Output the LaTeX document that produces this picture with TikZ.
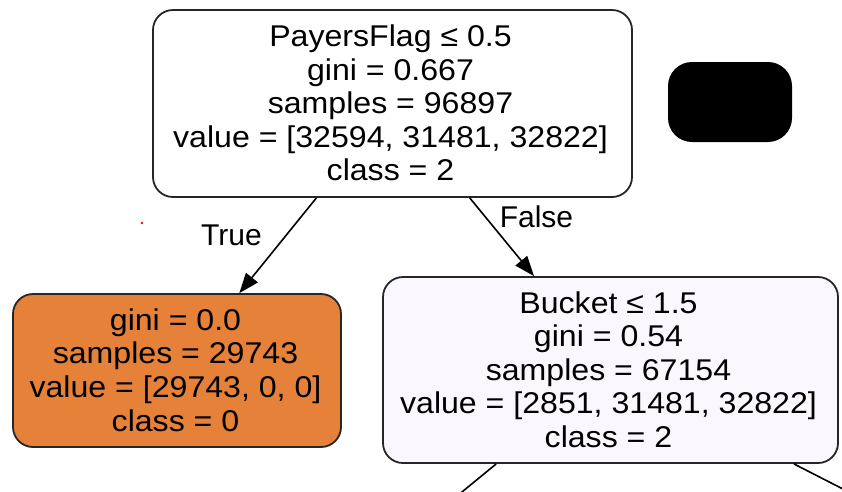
\documentclass[tikz,border=0pt]{standalone}
\usepackage{fontspec}
\setmainfont{Liberation Sans}[FakeStretch=1.07]
\newfontfamily\edgefont{Liberation Sans}
\usetikzlibrary{arrows.meta}
\definecolor{leaforange}{HTML}{E58139}
\definecolor{splitlilac}{HTML}{FAF8FE}
\begin{document}
\begin{tikzpicture}[x=1pt,y=-1pt,
  treebox/.style={draw=black!85, line width=1.8pt, rounded corners=20pt, inner sep=0pt},
  boxtext/.style={align=center, font=\fontsize{30}{33.6}\selectfont, inner sep=0pt},
  edgelabel/.style={font=\edgefont\fontsize{30}{33.6}\selectfont, inner sep=0pt, anchor=base},
  branch/.style={line width=1.6pt, -{Triangle[length=20pt,width=15pt]}},
  twig/.style={line width=1.6pt},
]
\useasboundingbox (0,0) rectangle (842,491);
\clip (0,0) rectangle (842,491);

% tree boxes
\node[treebox, fill=white, minimum width=479pt, minimum height=187pt] (root) at (392.5,103.5) {};
\node[treebox, fill=leaforange, minimum width=328pt, minimum height=153pt] (leafL) at (177,370.5) {};
\node[treebox, fill=splitlilac, minimum width=455pt, minimum height=186pt] (nodeR) at (610.5,370) {};

% box contents
\node[boxtext] (rootText) at (390.5,103) {PayersFlag ≤ 0.5\\gini = 0.667\\samples = 96897\\value = [32594, 31481, 32822]\\class = 2};
\node[boxtext] (leafText) at (175.5,370) {gini = 0.0\\samples = 29743\\value = [29743, 0, 0]\\class = 0};
\node[boxtext] (nodeRText) at (608.5,369.5) {Bucket ≤ 1.5\\gini = 0.54\\samples = 67154\\value = [2851, 31481, 32822]\\class = 2};

% solid rounded block beside the root
\node[fill=black, rounded corners=24pt, minimum width=124pt, minimum height=80pt, inner sep=0pt] (blackbox) at (730,102) {};

% branches
\draw[branch] (root) -- (leafL);
\draw[branch] (root) -- (nodeR);
\node[edgelabel] (trueLabel) at (231.5,245) {True};
\node[edgelabel] (falseLabel) at (536.5,227) {False};

% branches continuing below the frame
\coordinate (belowL) at (440,510);
\coordinate (belowR) at (884,510);
\draw[twig] (nodeR) -- (belowL);
\draw[twig] (nodeR) -- (belowR);

% small red speck
\fill[red] (142,223) circle[radius=1.3];
\end{tikzpicture}
\end{document}
